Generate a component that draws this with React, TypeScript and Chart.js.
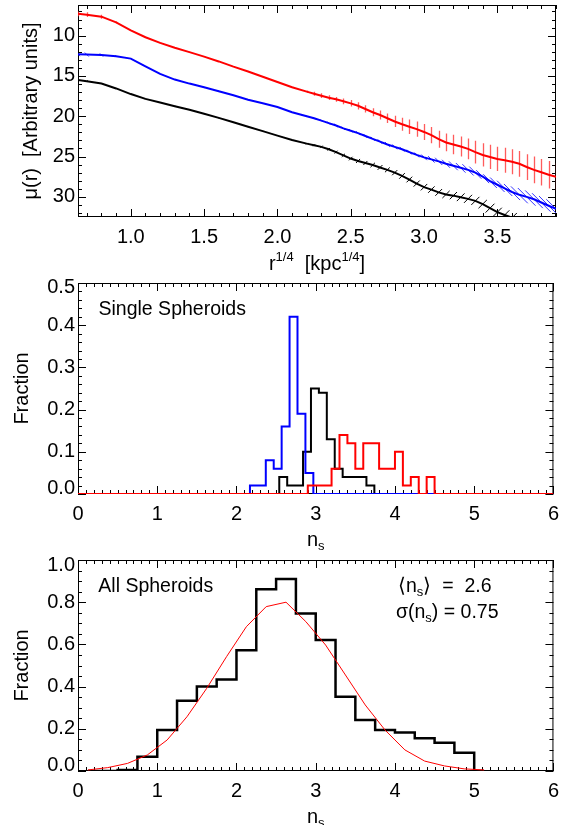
import React, { useEffect, useRef } from 'react';
import { Chart, registerables } from 'chart.js';

Chart.register(...registerables);

const FONT = '"Liberation Sans", Arial, Helvetica, sans-serif';

// ---------------- Panel 1: surface-brightness profiles ----------------
const R14 = [0.64, 0.7, 0.8, 0.9, 1.0, 1.1, 1.2, 1.3, 1.4, 1.5, 1.6, 1.7, 1.8, 1.9, 2.0, 2.1, 2.2,
  2.25, 2.3, 2.35, 2.4, 2.45, 2.5, 2.55, 2.6, 2.65, 2.7, 2.75, 2.8, 2.85, 2.9, 2.95, 3.0,
  3.05, 3.1, 3.15, 3.2, 3.25, 3.3, 3.35, 3.4, 3.45, 3.5, 3.55, 3.6, 3.65, 3.7, 3.75, 3.8, 3.85, 3.9];
const MU_RED = [7.3, 7.4, 7.65, 8.35, 9.35, 10.2, 10.9, 11.5, 12.05, 12.6, 13.2, 13.85, 14.45, 15.1, 15.75, 16.4, 16.95,
  17.2, 17.45, 17.7, 17.9, 18.15, 18.4, 18.7, 19.1, 19.5, 19.85, 20.25, 20.65, 21.0, 21.3, 21.6, 21.95,
  22.35, 22.85, 23.25, 23.5, 23.75, 24.05, 24.45, 24.8, 25.05, 25.3, 25.45, 25.65, 25.9, 26.3, 26.65, 26.95, 27.25, 27.5];
const MU_BLUE = [12.3, 12.35, 12.4, 12.55, 12.85, 13.8, 14.75, 15.45, 15.95, 16.4, 16.9, 17.4, 17.95, 18.4, 18.85, 19.5, 20.0,
  20.25, 20.55, 20.85, 21.15, 21.5, 21.8, 22.1, 22.45, 22.8, 23.15, 23.5, 23.8, 24.1, 24.45, 24.8, 25.1,
  25.35, 25.6, 25.9, 26.15, 26.4, 26.65, 27.0, 27.5, 28.05, 28.5, 28.95, 29.4, 29.75, 30.0, 30.3, 30.7, 31.1, 31.5];
const MU_BLACK = [15.5, 15.65, 15.95, 16.55, 17.25, 17.85, 18.3, 18.75, 19.2, 19.7, 20.2, 20.75, 21.3, 21.85, 22.4, 22.95, 23.4,
  23.6, 23.8, 24.1, 24.45, 24.85, 25.25, 25.55, 25.8, 26.05, 26.35, 26.65, 27.0, 27.4, 27.85, 28.35, 28.8,
  29.1, 29.45, 29.7, 29.85, 30.05, 30.25, 30.5, 30.9, 31.4, 31.9, 32.25, 32.6, 32.95, 33.3, null, null, null, null];
const ERR_RED = [0.3, 0.3, 0.25, 0.1, 0.05, 0.05, 0.05, 0.05, 0.05, 0.05, 0.05, 0.05, 0.05, 0.05, 0.05, 0.05, 0.15,
  0.25, 0.3, 0.3, 0.3, 0.35, 0.4, 0.45, 0.45, 0.5, 0.55, 0.6, 0.7, 0.8, 0.9, 0.95, 1.0,
  1.0, 1.05, 1.1, 1.2, 1.25, 1.3, 1.4, 1.45, 1.5, 1.5, 1.55, 1.55, 1.6, 1.6, 1.65, 1.65, 1.7, 1.7];
const ERR_BLUE = [0.25, 0.25, 0.2, 0.1, 0.05, 0.05, 0.05, 0.05, 0.05, 0.05, 0.05, 0.05, 0.05, 0.05, 0.05, 0.05, 0.1,
  0.15, 0.15, 0.2, 0.2, 0.2, 0.2, 0.25, 0.25, 0.25, 0.3, 0.3, 0.3, 0.3, 0.3, 0.3, 0.35,
  0.4, 0.45, 0.5, 0.55, 0.6, 0.7, 0.75, 0.8, 0.85, 0.9, 0.95, 1.0, 1.05, 1.1, 1.1, 1.15, 1.2, 1.2];
const ERR_BLACK = [0.1, 0.1, 0.05, 0.05, 0.03, 0.03, 0.03, 0.03, 0.03, 0.03, 0.03, 0.03, 0.03, 0.03, 0.03, 0.03, 0.1,
  0.12, 0.15, 0.15, 0.18, 0.2, 0.22, 0.25, 0.25, 0.28, 0.3, 0.3, 0.32, 0.35, 0.35, 0.38, 0.4,
  0.4, 0.42, 0.45, 0.45, 0.48, 0.5, 0.5, 0.52, 0.55, 0.55, 0.58, 0.6, 0.6, 0.62, null, null, null, null];
const TOP_X_TICKS = [1.0, 1.5, 2.0, 2.5, 3.0, 3.5];
const TOP_Y_TICKS = [10, 15, 20, 25, 30];

// ---------------- Panel 2: single spheroids ----------------
const BLUE_EDGES = [0, 2.17, 2.37, 2.47, 2.57, 2.67, 2.77, 2.87, 2.97, 6];
const BLUE_FRAC = [0, 0.02, 0.08, 0.06, 0.16, 0.42, 0.19, 0.05, 0];
const BLACK_EDGES = [0, 2.54, 2.64, 2.84, 2.94, 3.04, 3.14, 3.24, 3.34, 3.64, 3.74, 6];
const BLACK_FRAC = [0, 0.04, 0.02, 0.10, 0.25, 0.24, 0.13, 0.06, 0.04, 0.02, 0];
const RED_EDGES = [0, 2.90, 3.20, 3.30, 3.40, 3.50, 3.60, 3.80, 4.00, 4.10, 4.20, 4.30, 4.40, 4.50, 6];
const RED_FRAC = [0, 0.02, 0.06, 0.14, 0.12, 0.06, 0.12, 0.06, 0.10, 0.02, 0.04, 0, 0.04, 0];
const NS_TICKS = [0, 1, 2, 3, 4, 5, 6];
const MID_Y_TICKS = [0, 0.1, 0.2, 0.3, 0.4, 0.5];

// ---------------- Panel 3: all spheroids ----------------
const ALL_EDGES = [0.125, 0.5, 0.75, 1.0, 1.25, 1.5, 1.75, 2.0, 2.25, 2.5, 2.75, 3.0, 3.25, 3.5, 3.75, 4.0, 4.25, 4.5, 4.75, 5.0, 5.125];
const ALL_FRAC = [0, 0.005, 0.068, 0.194, 0.333, 0.40, 0.434, 0.572, 0.861, 0.910, 0.747, 0.621, 0.352, 0.242, 0.194, 0.182, 0.155, 0.134, 0.087, 0];
const FIT_N = [0.125, 0.375, 0.625, 0.875, 1.125, 1.375, 1.625, 1.875, 2.125, 2.375, 2.625, 2.875, 3.125, 3.375, 3.625, 3.875, 4.125, 4.375, 4.625, 4.875, 5.125];
const FIT_FRAC = [0.005, 0.016, 0.036, 0.076, 0.147, 0.257, 0.392, 0.542, 0.684, 0.779, 0.80, 0.708, 0.597, 0.455, 0.313, 0.194, 0.10, 0.047, 0.024, 0.01, 0.005];
const BOT_Y_TICKS = [0, 0.2, 0.4, 0.6, 0.8, 1.0];

type Seg = { t: string; sub?: boolean; sup?: boolean };

function drawSegs(ctx: CanvasRenderingContext2D, segs: Seg[], x: number, y: number, size: number, align: 'left' | 'center') {
  const small = Math.round(size * 0.66);
  const widths = segs.map((s) => {
    ctx.font = `${s.sub || s.sup ? small : size}px ${FONT}`;
    return ctx.measureText(s.t).width;
  });
  const total = widths.reduce((a, b) => a + b, 0);
  let cx = align === 'center' ? x - total / 2 : x;
  ctx.textAlign = 'left';
  ctx.textBaseline = 'alphabetic';
  segs.forEach((s, i) => {
    ctx.font = `${s.sub || s.sup ? small : size}px ${FONT}`;
    const dy = s.sub ? 4 : s.sup ? -9 : 0;
    ctx.fillText(s.t, cx, y + dy);
    cx += widths[i];
  });
}

type ErrSet = { x: number[]; y: (number | null)[]; e: (number | null)[]; color: string; width: number; kind: 'v' | 'bs' | 'fs' };
type IdlCfg = {
  xMajor: number[]; xMinor: number; yMajor: number[]; yMinor: number;
  yFmt: (v: number) => string; yGap: number; yNudge: number[];
  xTitle: Seg[]; xTitleY: number;
  texts: { segs: Seg[]; x: number; y: number; size: number }[];
  errors: ErrSet[];
};

function makeIdlPlugin(cfg: IdlCfg) {
  const MAJ = 8;
  const MIN = 4;
  const isIn = (arr: number[], v: number) => arr.some((m) => Math.abs(m - v) < 1e-6);
  return {
    id: 'idl',
    beforeDatasetsDraw(chart: any) {
      const ctx: CanvasRenderingContext2D = chart.ctx;
      const { left, right, top, bottom } = chart.chartArea;
      const xs = chart.scales.x;
      const ys = chart.scales.y;
      ctx.save();
      ctx.strokeStyle = '#000';
      ctx.lineWidth = 1;
      ctx.strokeRect(left + 0.5, top + 0.5, right - left - 1, bottom - top - 1);
      ctx.beginPath();
      const xlo = Math.min(xs.min, xs.max), xhi = Math.max(xs.min, xs.max);
      for (let k = Math.ceil(xlo / cfg.xMinor - 1e-6); k * cfg.xMinor <= xhi + 1e-6; k++) {
        const v = k * cfg.xMinor;
        const len = isIn(cfg.xMajor, v) ? MAJ : MIN;
        const px = Math.round(xs.getPixelForValue(v)) + 0.5;
        ctx.moveTo(px, bottom);
        ctx.lineTo(px, bottom - len);
        ctx.moveTo(px, top);
        ctx.lineTo(px, top + len);
      }
      const ylo = Math.min(ys.min, ys.max), yhi = Math.max(ys.min, ys.max);
      for (let k = Math.ceil(ylo / cfg.yMinor - 1e-6); k * cfg.yMinor <= yhi + 1e-6; k++) {
        const v = k * cfg.yMinor;
        const len = isIn(cfg.yMajor, v) ? MAJ : MIN;
        const py = Math.round(ys.getPixelForValue(v)) + 0.5;
        ctx.moveTo(left, py);
        ctx.lineTo(left + len, py);
        ctx.moveTo(right, py);
        ctx.lineTo(right - len, py);
      }
      ctx.stroke();

      ctx.beginPath();
      ctx.rect(left, top, right - left, bottom - top);
      ctx.clip();
      cfg.errors.forEach((es) => {
        ctx.strokeStyle = es.color;
        ctx.lineWidth = es.width;
        ctx.beginPath();
        es.x.forEach((xv, i) => {
          const yv = es.y[i];
          const e = es.e[i];
          if (yv == null || e == null) return;
          const px = xs.getPixelForValue(xv);
          const py = ys.getPixelForValue(yv);
          const d = Math.abs(ys.getPixelForValue(yv + e) - py);
          if (es.kind === 'v') {
            const cx = Math.round(px) + 0.5;
            ctx.moveTo(cx, py - d);
            ctx.lineTo(cx, py + d);
          } else if (es.kind === 'bs') {
            ctx.moveTo(px - d, py - d);
            ctx.lineTo(px + d, py + d);
          } else {
            ctx.moveTo(px - d, py + d);
            ctx.lineTo(px + d, py - d);
          }
        });
        ctx.stroke();
      });
      ctx.restore();
    },
    afterDraw(chart: any) {
      const ctx: CanvasRenderingContext2D = chart.ctx;
      const { left, right } = chart.chartArea;
      const ys = chart.scales.y;
      ctx.save();
      ctx.fillStyle = '#000';
      ctx.font = `20px ${FONT}`;
      ctx.textAlign = 'right';
      ctx.textBaseline = 'middle';
      cfg.yMajor.forEach((v, i) => {
        ctx.fillText(cfg.yFmt(v), left - cfg.yGap, ys.getPixelForValue(v) + (cfg.yNudge[i] || 0));
      });
      drawSegs(ctx, cfg.xTitle, (left + right) / 2, cfg.xTitleY, 20, 'center');
      cfg.texts.forEach((t) => drawSegs(ctx, t.segs, t.x, t.y, t.size, 'left'));
      ctx.restore();
    },
  };
}

function stepPoints(edges: number[], frac: number[]) {
  return edges.map((e, i) => ({ x: e, y: frac[Math.min(i, frac.length - 1)] }));
}

function baseOptions(p: {
  xMin: number; xMax: number; yMin: number; yMax: number; reverse?: boolean;
  xTicks: number[]; xFmt: (v: number) => string; padTop: number; xHeight: number;
  yTitle: string; yTitlePad: number;
}) {
  return {
    animation: false,
    responsive: false,
    maintainAspectRatio: false,
    events: [],
    layout: { padding: { left: 0, right: 11, top: p.padTop, bottom: 0 } },
    plugins: { legend: { display: false }, tooltip: { enabled: false } },
    scales: {
      x: {
        type: 'linear',
        min: p.xMin,
        max: p.xMax,
        grid: { display: false, drawTicks: false },
        border: { display: false },
        afterBuildTicks: (s: any) => { s.ticks = p.xTicks.map((v) => ({ value: v })); },
        afterFit: (s: any) => { s.height = p.xHeight; },
        ticks: {
          padding: 8,
          autoSkip: false,
          maxRotation: 0,
          color: '#000',
          font: { family: FONT, size: 20 },
          callback: (v: any) => p.xFmt(Number(v)),
        },
      },
      y: {
        type: 'linear',
        min: p.yMin,
        max: p.yMax,
        reverse: !!p.reverse,
        grid: { display: false, drawTicks: false },
        border: { display: false },
        ticks: { display: false },
        afterFit: (s: any) => { s.width = 78; },
        title: {
          display: true,
          text: p.yTitle,
          color: '#000',
          font: { family: FONT, size: 20 },
          padding: { top: p.yTitlePad, bottom: 0 },
        },
      },
    },
  };
}

export default function App() {
  const c1 = useRef<HTMLCanvasElement>(null);
  const c2 = useRef<HTMLCanvasElement>(null);
  const c3 = useRef<HTMLCanvasElement>(null);

  useEffect(() => {
    const charts: Chart[] = [];
    const lineDs = (data: any[], color: string, width: number, order: number, stepped = false) => ({
      data, borderColor: color, borderWidth: width, pointRadius: 0, fill: false, tension: 0,
      stepped, order, spanGaps: false,
    });

    // Panel 1
    const p1 = makeIdlPlugin({
      xMajor: TOP_X_TICKS, xMinor: 0.1, yMajor: TOP_Y_TICKS, yMinor: 1,
      yFmt: (v) => String(v), yGap: 3, yNudge: [],
      xTitle: [{ t: 'r' }, { t: '1/4', sup: true }, { t: '  [kpc' }, { t: '1/4', sup: true }, { t: ']' }],
      xTitleY: 270,
      texts: [],
      errors: [
        { x: R14, y: MU_BLACK, e: ERR_BLACK, color: '#000000', width: 1, kind: 'fs' },
        { x: R14, y: MU_BLUE, e: ERR_BLUE, color: '#3535ff', width: 1, kind: 'bs' },
        { x: R14, y: MU_RED, e: ERR_RED, color: 'rgba(255,50,50,0.8)', width: 1.3, kind: 'v' },
      ],
    });
    charts.push(new Chart(c1.current as HTMLCanvasElement, {
      type: 'line',
      data: {
        datasets: [
          lineDs(R14.map((r, i) => ({ x: r, y: MU_RED[i] })), '#ff0000', 2, 0),
          lineDs(R14.map((r, i) => ({ x: r, y: MU_BLUE[i] })), '#0000ff', 2, 1),
          lineDs(R14.map((r, i) => ({ x: r, y: MU_BLACK[i] })), '#000000', 2, 2),
        ],
      },
      options: baseOptions({
        xMin: 0.64, xMax: 3.9, yMin: 6.2, yMax: 32.5, reverse: true,
        xTicks: TOP_X_TICKS, xFmt: (v) => v.toFixed(1), padTop: 5, xHeight: 61,
        yTitle: 'μ(r)  [Arbitrary units]', yTitlePad: 19,
      }) as any,
      plugins: [p1],
    }));

    // Panel 2
    const p2 = makeIdlPlugin({
      xMajor: NS_TICKS, xMinor: 0.1, yMajor: MID_Y_TICKS, yMinor: 0.02,
      yFmt: (v) => v.toFixed(1), yGap: 3, yNudge: [-5.5, 0, 0, 0, 0, 4.5],
      xTitle: [{ t: 'n' }, { t: 's', sub: true }],
      xTitleY: 267.5,
      texts: [{ segs: [{ t: 'Single Spheroids' }], x: 98.5, y: 37, size: 19.5 }],
      errors: [],
    });
    charts.push(new Chart(c2.current as HTMLCanvasElement, {
      type: 'line',
      data: {
        datasets: [
          lineDs(stepPoints(RED_EDGES, RED_FRAC), '#ff0000', 2, 0, true),
          lineDs(stepPoints(BLUE_EDGES, BLUE_FRAC), '#0000ff', 2, 1, true),
          lineDs(stepPoints(BLACK_EDGES, BLACK_FRAC), '#000000', 2, 2, true),
        ],
      },
      options: baseOptions({
        xMin: 0, xMax: 6, yMin: 0, yMax: 0.5,
        xTicks: NS_TICKS, xFmt: (v) => String(v), padTop: 5, xHeight: 56,
        yTitle: 'Fraction', yTitlePad: 10,
      }) as any,
      plugins: [p2],
    }));

    // Panel 3
    const p3 = makeIdlPlugin({
      xMajor: NS_TICKS, xMinor: 0.1, yMajor: BOT_Y_TICKS, yMinor: 0.05,
      yFmt: (v) => v.toFixed(1), yGap: 3, yNudge: [-6, 0, 0, 0, 0, 5],
      xTitle: [{ t: 'n' }, { t: 's', sub: true }],
      xTitleY: 272.5,
      texts: [
        { segs: [{ t: 'All Spheroids' }], x: 98.3, y: 41.7, size: 19.5 },
        { segs: [{ t: '\u27E8n' }, { t: 's', sub: true }, { t: '\u27E9  =  2.6' }], x: 398, y: 41.7, size: 19.5 },
        { segs: [{ t: 'σ(n' }, { t: 's', sub: true }, { t: ') = 0.75' }], x: 396, y: 67.7, size: 19.5 },
      ],
      errors: [],
    });
    charts.push(new Chart(c3.current as HTMLCanvasElement, {
      type: 'line',
      data: {
        datasets: [
          lineDs(FIT_N.map((n, i) => ({ x: n, y: FIT_FRAC[i] })), '#ff0000', 1, 0),
          lineDs(stepPoints(ALL_EDGES, ALL_FRAC), '#000000', 2.5, 1, true),
        ],
      },
      options: baseOptions({
        xMin: 0, xMax: 6, yMin: 0, yMax: 1.0,
        xTicks: NS_TICKS, xFmt: (v) => String(v), padTop: 10, xHeight: 54,
        yTitle: 'Fraction', yTitlePad: 10,
      }) as any,
      plugins: [p3],
    }));

    return () => { charts.forEach((c) => c.destroy()); };
  }, []);

  const cs = (top: number, h: number): React.CSSProperties => ({
    position: 'absolute', left: 0, top, width: 567, height: h, display: 'block',
  });

  return (
    <div style={{ position: 'absolute', left: 0, top: 0, width: 567, height: 825, background: '#fff' }}>
      <canvas ref={c1} width={567} height={278} style={cs(0, 278)} />
      <canvas ref={c2} width={567} height={272} style={cs(278, 272)} />
      <canvas ref={c3} width={567} height={275} style={cs(550, 275)} />
    </div>
  );
}
